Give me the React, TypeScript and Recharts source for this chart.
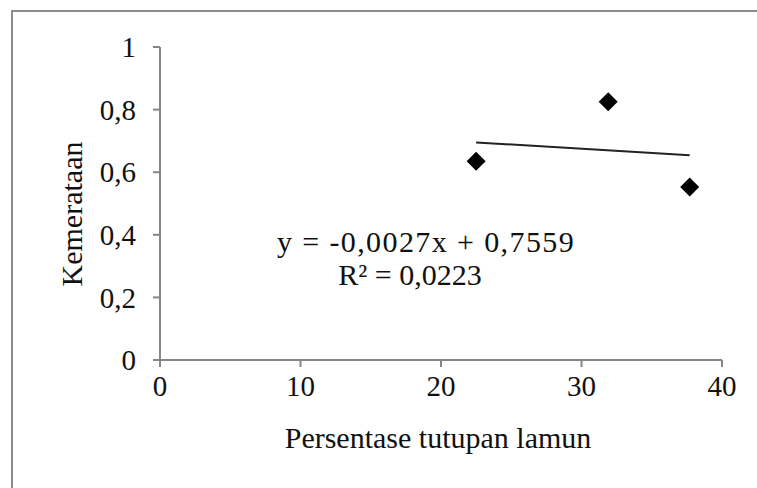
import React from "react";
import {
  ComposedChart,
  Scatter,
  Line,
  XAxis,
  YAxis,
} from "recharts";

const coverage = [22.5, 31.9, 37.7];
const evenness = [0.635, 0.825, 0.553];
const xTicks = [0, 10, 20, 30, 40];
const yTicks = [0, 0.2, 0.4, 0.6, 0.8, 1];
const slope = -0.0027;
const intercept = 0.7559;

const points = coverage.map((x, i) => ({ x, y: evenness[i] }));
const trend = [Math.min(...coverage), Math.max(...coverage)].map((x) => ({
  x,
  t: slope * x + intercept,
}));

const font = "'Liberation Serif', 'Times New Roman', serif";
const axisColor = "#868686";
const textColor = "#111";

const Diamond = (props: any) => {
  const { cx, cy } = props;
  const r = 9.5;
  return (
    <polygon
      points={`${cx},${cy - r} ${cx + r},${cy} ${cx},${cy + r} ${cx - r},${cy}`}
      fill="#000"
    />
  );
};

const fmt = (v: number) => String(v).replace(".", ",");

export default function App() {
  return (
    <div
      style={{
        position: "absolute",
        left: 0,
        top: 0,
        width: 757,
        height: 488,
        background: "#fff",
        fontFamily: font,
        color: textColor,
      }}
    >
      <div
        style={{
          position: "absolute",
          left: 11,
          top: 10,
          right: 0,
          bottom: 0,
          borderLeft: "2px solid #8c8c8c",
          borderTop: "2px solid #8c8c8c",
        }}
      />
      <ComposedChart
        width={757}
        height={488}
        data={points}
        margin={{ top: 47, right: 35, bottom: 58, left: 60 }}
        style={{ position: "absolute", left: 0, top: 0 }}
      >
        <XAxis
          type="number"
          dataKey="x"
          domain={[0, 40]}
          ticks={xTicks}
          height={70}
          tickSize={7}
          tickMargin={8}
          stroke={axisColor}
          strokeWidth={2}
          tick={{ fill: textColor, fontSize: 29, fontFamily: font }}
        />
        <YAxis
          type="number"
          domain={[0, 1]}
          ticks={yTicks}
          width={100}
          tickSize={7}
          tickMargin={17}
          stroke={axisColor}
          strokeWidth={2}
          tickFormatter={fmt}
          tick={{ fill: textColor, fontSize: 29, fontFamily: font }}
        />
        <Line
          data={trend}
          dataKey="t"
          stroke="#222"
          strokeWidth={2}
          dot={false}
          activeDot={false}
          isAnimationActive={false}
        />
        <Scatter dataKey="y" shape={<Diamond />} isAnimationActive={false} />
      </ComposedChart>
      <div
        style={{
          position: "absolute",
          left: 238,
          top: 418,
          width: 400,
          textAlign: "center",
          fontSize: 30,
          lineHeight: "40px",
        }}
      >
        Persentase tutupan lamun
      </div>
      <div
        style={{
          position: "absolute",
          left: 72 - 100,
          top: 214 - 20,
          width: 200,
          height: 40,
          lineHeight: "40px",
          textAlign: "center",
          fontSize: 30,
          transform: "rotate(-90deg)",
        }}
      >
        Kemerataan
      </div>
      <div
        style={{
          position: "absolute",
          left: 226,
          top: 225,
          width: 400,
          textAlign: "center",
          fontSize: 30,
          lineHeight: "33px",
        }}
      >
        <div style={{ letterSpacing: "1.4px" }}>y = -0,0027x + 0,7559</div>
        <div style={{ marginLeft: -32 }}>R² = 0,0223</div>
      </div>
    </div>
  );
}
